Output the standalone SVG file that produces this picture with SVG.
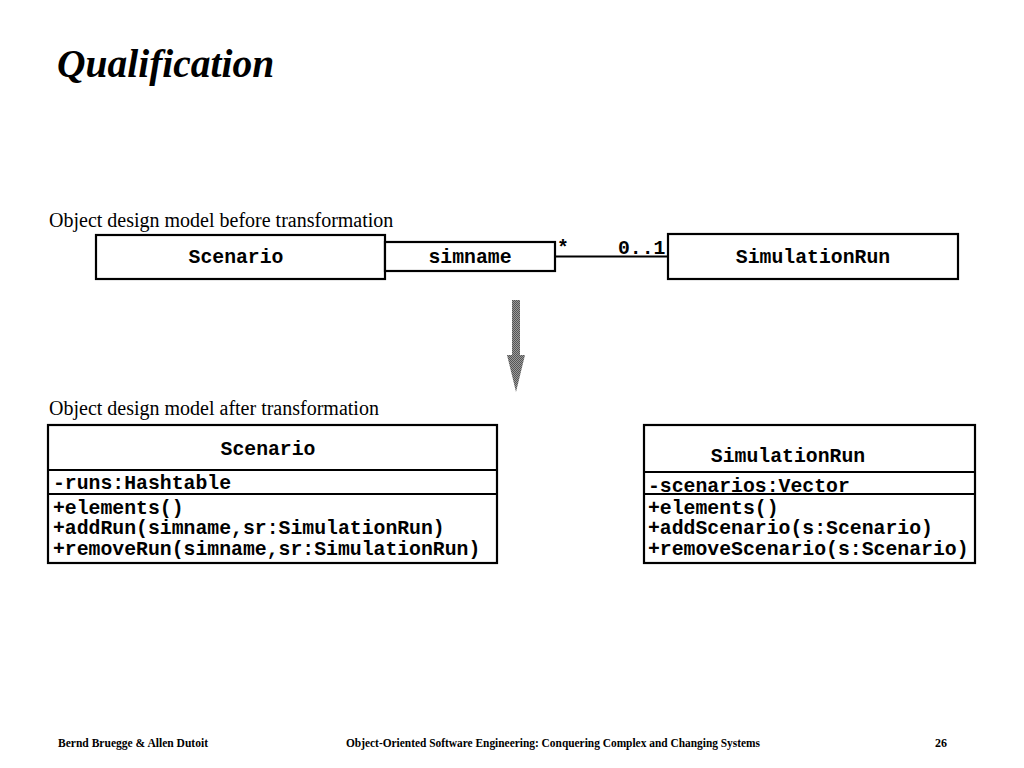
<svg xmlns="http://www.w3.org/2000/svg" width="1024" height="768" viewBox="0 0 1024 768">
<style>
.box{fill:#fff;stroke:#000;stroke-width:2.2}
.mono{font-family:"Liberation Mono","Courier New",monospace;font-weight:bold;font-size:19.8px;fill:#000}
.serif{font-family:"Liberation Serif","Times New Roman",serif;font-size:20px;fill:#000}
.foot{font-family:"Liberation Serif","Times New Roman",serif;font-weight:bold;font-size:12px;fill:#000}
.line{stroke:#000;stroke-width:2;fill:none}
</style>
<defs>
<pattern id="dither" width="2" height="2" patternUnits="userSpaceOnUse">
<rect width="2" height="2" fill="#9a9a9a"/>
<rect width="1" height="1" fill="#555"/>
<rect x="1" y="1" width="1" height="1" fill="#555"/>
</pattern>
</defs>
<rect width="1024" height="768" fill="#fff"/>
<text x="57" y="77" font-family="Liberation Serif,'Times New Roman',serif" font-weight="bold" font-style="italic" font-size="39.5" fill="#000">Qualification</text>

<text class="serif" x="49" y="227">Object design model before transformation</text>

<g id="connectors">
<line class="line" x1="555" y1="256.500" x2="668" y2="256.500"/>
<text class="mono" x="557" y="254">*</text>
<text class="mono" x="618" y="254">0..1</text>
</g>

<g id="scenario-before">
<rect class="box" x="96" y="235" width="289" height="44"/>
<text class="mono" x="236" y="263" text-anchor="middle">Scenario</text>
</g>
<g id="simname-qualifier">
<rect class="box" x="385" y="242" width="170" height="29"/>
<text class="mono" x="470" y="263" text-anchor="middle">simname</text>
</g>
<g id="simulationrun-before">
<rect class="box" x="668" y="234" width="290" height="45"/>
<text class="mono" x="813" y="263" text-anchor="middle">SimulationRun</text>
</g>

<g id="transform-arrow">
<path d="M512,300 H520 V355 H525 L516,392 L507,355 H512 Z" fill="url(#dither)"/>
</g>

<text class="serif" x="49" y="415">Object design model after transformation</text>

<g id="scenario-after">
<rect class="box" x="48" y="425" width="449" height="138"/>
<line class="line" x1="48" y1="470" x2="497" y2="470" stroke-width="3"/>
<line class="line" x1="48" y1="494" x2="497" y2="494" stroke-width="3"/>
<text class="mono" x="268" y="455" text-anchor="middle">Scenario</text>
<text class="mono" x="53" y="489">-runs:Hashtable</text>
<text class="mono" x="53" y="514">+elements()</text>
<text class="mono" x="53" y="534">+addRun(simname,sr:SimulationRun)</text>
<text class="mono" x="53" y="555">+removeRun(simname,sr:SimulationRun)</text>
</g>

<g id="simulationrun-after">
<rect class="box" x="644" y="425" width="331" height="138"/>
<line class="line" x1="644" y1="472" x2="975" y2="472" stroke-width="3"/>
<line class="line" x1="644" y1="494" x2="975" y2="494" stroke-width="3"/>
<text class="mono" x="788" y="462" text-anchor="middle">SimulationRun</text>
<text class="mono" x="648" y="492">-scenarios:Vector</text>
<text class="mono" x="648" y="514">+elements()</text>
<text class="mono" x="648" y="534">+addScenario(s:Scenario)</text>
<text class="mono" x="648" y="555">+removeScenario(s:Scenario)</text>
</g>

<text class="foot" x="58" y="747" textLength="150" lengthAdjust="spacingAndGlyphs">Bernd Bruegge &amp; Allen Dutoit</text>
<text class="foot" x="346" y="747" textLength="414" lengthAdjust="spacingAndGlyphs">Object-Oriented Software Engineering: Conquering Complex and Changing Systems</text>
<text class="foot" x="935" y="747">26</text>
</svg>
